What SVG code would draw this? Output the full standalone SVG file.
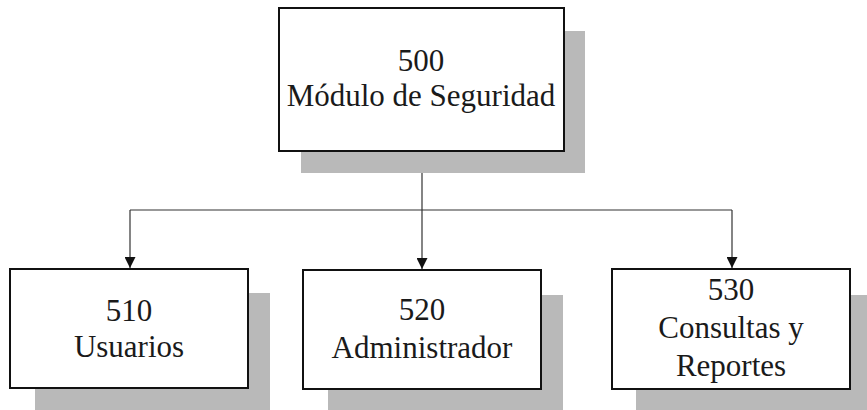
<svg xmlns="http://www.w3.org/2000/svg" width="867" height="410" viewBox="0 0 867 410">
<style>
.shadow{fill:#b9b9b9}
.box{fill:#ffffff;stroke:#111111;stroke-width:2}
.lbl{font-family:"Liberation Serif","Times New Roman",serif;font-size:31px;fill:#1a1a1a;text-anchor:middle}
.conn{fill:none;stroke:#333333;stroke-width:1.2}
</style>
<defs>
<marker id="arr" markerWidth="12" markerHeight="11" refX="12" refY="6" orient="auto" markerUnits="userSpaceOnUse" viewBox="0 0 12 12">
<path d="M0,0 L12,6 L0,12 Z" fill="#111111"/>
</marker>
</defs>
<rect width="867" height="410" fill="#ffffff"/>
<g id="connectors">
<line class="conn" x1="422" y1="151" x2="422" y2="210"/>
<line class="conn" x1="130" y1="210" x2="732" y2="210"/>
<line class="conn" x1="130" y1="210" x2="130" y2="268" marker-end="url(#arr)"/>
<line class="conn" x1="422" y1="210" x2="422" y2="269" marker-end="url(#arr)"/>
<line class="conn" x1="732" y1="210" x2="732" y2="268" marker-end="url(#arr)"/>
</g>
<g id="node500">
<rect class="shadow" x="301" y="31" width="284" height="142"/>
<rect class="box" x="279" y="8" width="285" height="143"/>
<text class="lbl" x="421" y="71">500</text>
<text class="lbl" x="421" y="106">Módulo de Seguridad</text>
</g>
<g id="node510">
<rect class="shadow" x="35" y="293" width="235" height="117"/>
<rect class="box" x="10" y="269" width="238" height="119"/>
<text class="lbl" x="129" y="321">510</text>
<text class="lbl" x="129" y="357">Usuarios</text>
</g>
<g id="node520">
<rect class="shadow" x="328" y="295" width="235" height="115"/>
<rect class="box" x="303" y="270" width="238" height="119"/>
<text class="lbl" x="422" y="320">520</text>
<text class="lbl" x="422" y="358">Administrador</text>
</g>
<g id="node530">
<rect class="shadow" x="636" y="295" width="231" height="115"/>
<rect class="box" x="612" y="269" width="238" height="120"/>
<text class="lbl" x="731" y="300">530</text>
<text class="lbl" x="731" y="338">Consultas y</text>
<text class="lbl" x="731" y="376">Reportes</text>
</g>
</svg>
